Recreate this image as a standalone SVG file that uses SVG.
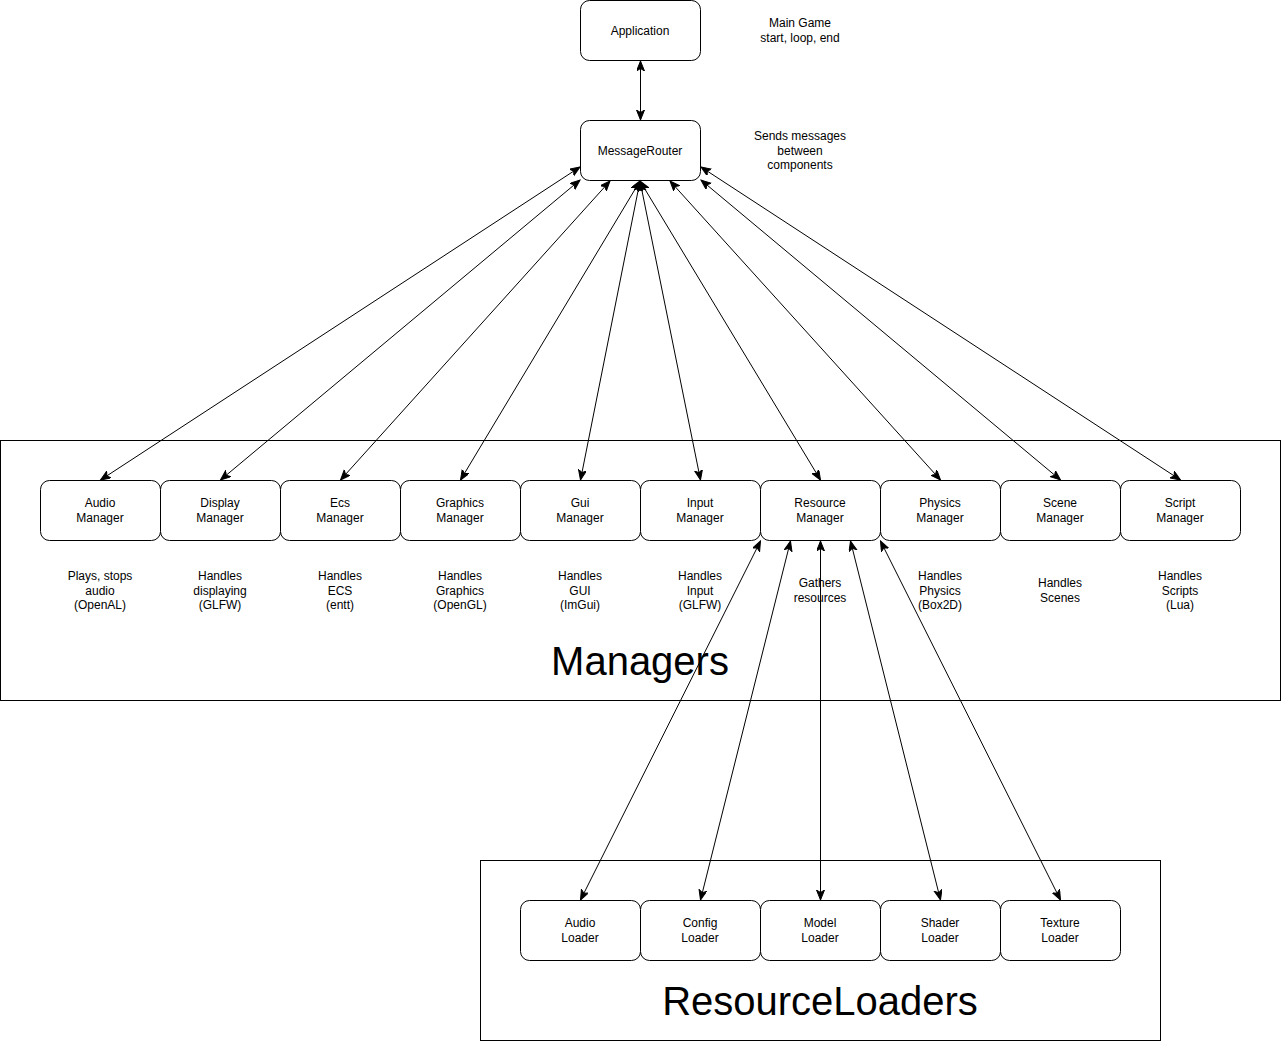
<svg xmlns="http://www.w3.org/2000/svg" width="1281" height="1041" viewBox="0 0 1281 1041">
<style>
.n{fill:#fff;stroke:#000;stroke-width:1}
.c{fill:none;stroke:#000;stroke-width:1}
.t{font-family:"Liberation Sans",Arial,sans-serif;font-size:12px;fill:#000;text-anchor:middle}
.big{font-family:"Liberation Sans",Arial,sans-serif;font-size:40px;fill:#000;text-anchor:middle}
.e{fill:none;stroke:#000;stroke-width:1;marker-start:url(#a);marker-end:url(#a)}
</style>
<defs>
<marker id="a" markerUnits="userSpaceOnUse" markerWidth="12" markerHeight="10" refX="10" refY="4" orient="auto-start-reverse" viewBox="0 0 12 10">
<path d="M0,0 L10,4 L0,8 L2.5,4 z" fill="#000" stroke="#000" stroke-width="1"/>
</marker>
</defs>
<g id="managers-group">
<rect class="c" x="0.5" y="440.5" width="1280" height="260"/>
<text class="big" x="640" y="675">Managers</text>
</g>
<g id="loaders-group">
<rect class="c" x="480.5" y="860.5" width="680" height="180"/>
<text class="big" x="820" y="1015">ResourceLoaders</text>
</g>
<g id="application"><rect class="n" x="580.5" y="0.5" width="120" height="60" rx="9"/><text class="t" x="640" y="35">Application</text></g>
<g id="messagerouter"><rect class="n" x="580.5" y="120.5" width="120" height="60" rx="9"/><text class="t" x="640" y="155">MessageRouter</text></g>
<g id="note-app"><text class="t" x="800" y="27">Main Game</text><text class="t" x="800" y="42">start, loop, end</text></g>
<g id="note-router"><text class="t" x="800" y="140">Sends messages</text><text class="t" x="800" y="155">between</text><text class="t" x="800" y="169">components</text></g>
<g id="audio-manager"><rect class="n" x="40.5" y="480.5" width="120" height="60" rx="9"/><text class="t" x="100" y="507">Audio</text><text class="t" x="100" y="522">Manager</text></g>
<g id="display-manager"><rect class="n" x="160.5" y="480.5" width="120" height="60" rx="9"/><text class="t" x="220" y="507">Display</text><text class="t" x="220" y="522">Manager</text></g>
<g id="ecs-manager"><rect class="n" x="280.5" y="480.5" width="120" height="60" rx="9"/><text class="t" x="340" y="507">Ecs</text><text class="t" x="340" y="522">Manager</text></g>
<g id="graphics-manager"><rect class="n" x="400.5" y="480.5" width="120" height="60" rx="9"/><text class="t" x="460" y="507">Graphics</text><text class="t" x="460" y="522">Manager</text></g>
<g id="gui-manager"><rect class="n" x="520.5" y="480.5" width="120" height="60" rx="9"/><text class="t" x="580" y="507">Gui</text><text class="t" x="580" y="522">Manager</text></g>
<g id="input-manager"><rect class="n" x="640.5" y="480.5" width="120" height="60" rx="9"/><text class="t" x="700" y="507">Input</text><text class="t" x="700" y="522">Manager</text></g>
<g id="resource-manager"><rect class="n" x="760.5" y="480.5" width="120" height="60" rx="9"/><text class="t" x="820" y="507">Resource</text><text class="t" x="820" y="522">Manager</text></g>
<g id="physics-manager"><rect class="n" x="880.5" y="480.5" width="120" height="60" rx="9"/><text class="t" x="940" y="507">Physics</text><text class="t" x="940" y="522">Manager</text></g>
<g id="scene-manager"><rect class="n" x="1000.5" y="480.5" width="120" height="60" rx="9"/><text class="t" x="1060" y="507">Scene</text><text class="t" x="1060" y="522">Manager</text></g>
<g id="script-manager"><rect class="n" x="1120.5" y="480.5" width="120" height="60" rx="9"/><text class="t" x="1180" y="507">Script</text><text class="t" x="1180" y="522">Manager</text></g>
<g id="desc-audio"><text class="t" x="100" y="580">Plays, stops</text><text class="t" x="100" y="595">audio</text><text class="t" x="100" y="609">(OpenAL)</text></g>
<g id="desc-display"><text class="t" x="220" y="580">Handles</text><text class="t" x="220" y="595">displaying</text><text class="t" x="220" y="609">(GLFW)</text></g>
<g id="desc-ecs"><text class="t" x="340" y="580">Handles</text><text class="t" x="340" y="595">ECS</text><text class="t" x="340" y="609">(entt)</text></g>
<g id="desc-graphics"><text class="t" x="460" y="580">Handles</text><text class="t" x="460" y="595">Graphics</text><text class="t" x="460" y="609">(OpenGL)</text></g>
<g id="desc-gui"><text class="t" x="580" y="580">Handles</text><text class="t" x="580" y="595">GUI</text><text class="t" x="580" y="609">(ImGui)</text></g>
<g id="desc-input"><text class="t" x="700" y="580">Handles</text><text class="t" x="700" y="595">Input</text><text class="t" x="700" y="609">(GLFW)</text></g>
<g id="desc-resource"><text class="t" x="820" y="587">Gathers</text><text class="t" x="820" y="602">resources</text></g>
<g id="desc-physics"><text class="t" x="940" y="580">Handles</text><text class="t" x="940" y="595">Physics</text><text class="t" x="940" y="609">(Box2D)</text></g>
<g id="desc-scene"><text class="t" x="1060" y="587">Handles</text><text class="t" x="1060" y="602">Scenes</text></g>
<g id="desc-script"><text class="t" x="1180" y="580">Handles</text><text class="t" x="1180" y="595">Scripts</text><text class="t" x="1180" y="609">(Lua)</text></g>
<g id="audio-loader"><rect class="n" x="520.5" y="900.5" width="120" height="60" rx="9"/><text class="t" x="580" y="927">Audio</text><text class="t" x="580" y="942">Loader</text></g>
<g id="config-loader"><rect class="n" x="640.5" y="900.5" width="120" height="60" rx="9"/><text class="t" x="700" y="927">Config</text><text class="t" x="700" y="942">Loader</text></g>
<g id="model-loader"><rect class="n" x="760.5" y="900.5" width="120" height="60" rx="9"/><text class="t" x="820" y="927">Model</text><text class="t" x="820" y="942">Loader</text></g>
<g id="shader-loader"><rect class="n" x="880.5" y="900.5" width="120" height="60" rx="9"/><text class="t" x="940" y="927">Shader</text><text class="t" x="940" y="942">Loader</text></g>
<g id="texture-loader"><rect class="n" x="1000.5" y="900.5" width="120" height="60" rx="9"/><text class="t" x="1060" y="927">Texture</text><text class="t" x="1060" y="942">Loader</text></g>
<g id="connectors">
<line class="e" x1="640.5" y1="61" x2="640.5" y2="120"/>
<line class="e" x1="580" y1="167" x2="100.5" y2="480"/>
<line class="e" x1="580" y1="180" x2="220.5" y2="480"/>
<line class="e" x1="610" y1="181" x2="340.5" y2="480"/>
<line class="e" x1="640" y1="181" x2="460.5" y2="480"/>
<line class="e" x1="640" y1="181" x2="580.5" y2="480"/>
<line class="e" x1="640" y1="181" x2="700.5" y2="480"/>
<line class="e" x1="640" y1="181" x2="820.5" y2="480"/>
<line class="e" x1="670" y1="181" x2="940.5" y2="480"/>
<line class="e" x1="701" y1="180" x2="1060.5" y2="480"/>
<line class="e" x1="701" y1="167" x2="1180.5" y2="480"/>
<line class="e" x1="760.5" y1="541" x2="580.5" y2="900"/>
<line class="e" x1="790.5" y1="541" x2="700.5" y2="900"/>
<line class="e" x1="820.5" y1="541" x2="820.5" y2="900"/>
<line class="e" x1="850.5" y1="541" x2="940.5" y2="900"/>
<line class="e" x1="880.5" y1="541" x2="1060.5" y2="900"/>
</g>
</svg>
